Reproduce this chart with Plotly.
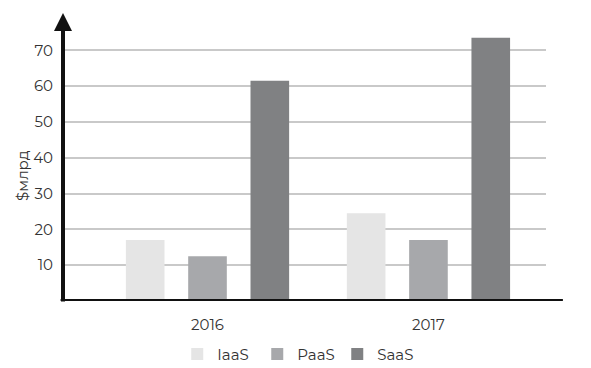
import plotly.graph_objects as go

years = ["2016", "2017"]
series_names = ["IaaS", "PaaS", "SaaS"]
iaas = [17, 24.5]
paas = [12.5, 17]
saas = [61.5, 73.5]
y_ticks = [10, 20, 30, 40, 50, 60, 70]

colors = ["#e5e5e5", "#a7a8ab", "#808183"]
font_family = "Montserrat, 'Open Sans', 'Noto Sans', sans-serif"

fig = go.Figure()
for name, vals, c in zip(series_names, [iaas, paas, saas], colors):
    fig.add_trace(go.Bar(name=name, x=years, y=vals, marker=dict(color=c, line=dict(width=0))))

fig.update_layout(
    width=583, height=360,
    margin=dict(l=55, r=45, t=5, b=67, autoexpand=False),
    paper_bgcolor="white", plot_bgcolor="white",
    barmode="group", bargap=0.154, bargroupgap=0.38,
    font=dict(family=font_family, size=15, color="#333333"),
    showlegend=True,
    legend=dict(orientation="h", x=0.485, xanchor="center", y=-0.185, yanchor="middle",
                font=dict(size=15, color="#333333"), itemwidth=30, traceorder="normal",
                entrywidth=35),
    xaxis=dict(type="category", range=[-0.654, 1.532], showgrid=False, showline=False,
               zeroline=False, ticks="", ticklabelstandoff=13, tickfont=dict(size=15),
               automargin=False),
    yaxis=dict(range=[0, 80.4], tickvals=y_ticks, showgrid=True, gridcolor="#c9c9c9",
               gridwidth=2, zeroline=False, showline=False, ticks="",
               ticklabelstandoff=9, tickfont=dict(size=15), automargin=False),
)

# x axis line (extends beyond grid)
fig.add_shape(type="line", xref="paper", yref="y", x0=-0.005, x1=1.035, y0=0, y1=0,
              line=dict(color="#111111", width=4), layer="above")
# y axis with arrow
fig.add_annotation(x=0, y=1, xref="paper", yref="paper", ax=0, ay=290, axref="pixel", ayref="pixel",
                   text="", showarrow=True, arrowhead=2, arrowsize=0.9, arrowwidth=4,
                   arrowcolor="#111111", standoff=0)
# y axis title
fig.add_annotation(x=-0.085, y=0.4375, xref="paper", yref="paper", text="$млрд", textangle=-90,
                   showarrow=False, font=dict(size=15, color="#333333"), xanchor="center", yanchor="middle")

fig.write_html("out.html")
